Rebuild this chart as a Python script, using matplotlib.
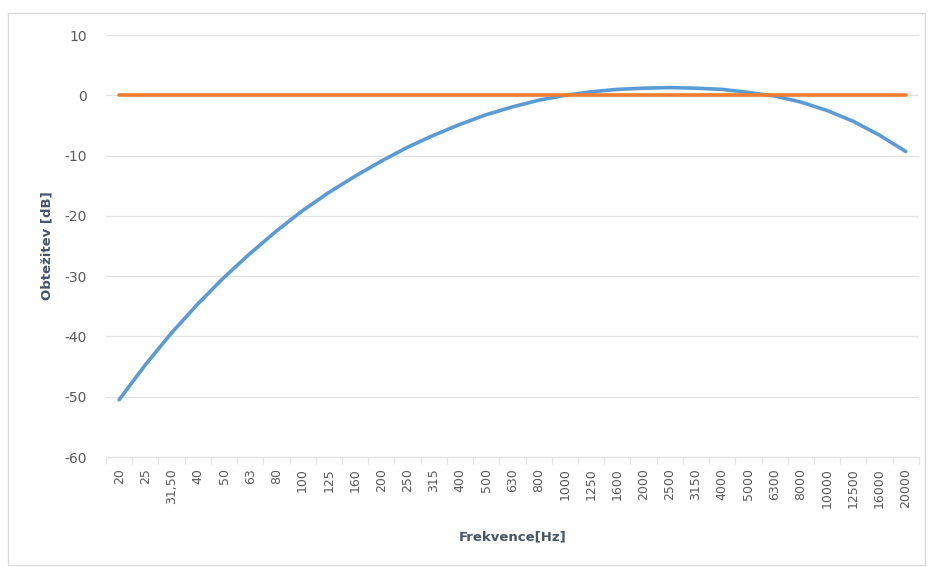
import matplotlib.pyplot as plt
from matplotlib.patches import Rectangle
import numpy as np

plt.rcParams['axes.unicode_minus'] = False

# frekvence (pásma) a A-vážení
freq_labels = ['20', '25', '31,50', '40', '50', '63', '80', '100', '125', '160',
               '200', '250', '315', '400', '500', '630', '800', '1000', '1250', '1600',
               '2000', '2500', '3150', '4000', '5000', '6300', '8000', '10000', '12500',
               '16000', '20000']
a_weight = [-50.5, -44.7, -39.4, -34.6, -30.2, -26.2, -22.5, -19.1, -16.1, -13.4,
            -10.9, -8.6, -6.6, -4.8, -3.2, -1.9, -0.8, 0.0, 0.6, 1.0,
            1.2, 1.3, 1.2, 1.0, 0.5, -0.1, -1.1, -2.5, -4.3, -6.6, -9.3]
reference = [0.0] * len(freq_labels)

text_col = '#595959'
grid_col = '#E3E3E3'

fig = plt.figure(figsize=(9.3, 5.67), dpi=100)
ax = fig.add_axes([0.114, 0.194, 0.874, 0.744])

# rámeček grafu
fig.patches.append(Rectangle((8 / 930, 2 / 567), 917 / 930, 552 / 567,
                             transform=fig.transFigure, fill=False,
                             edgecolor='#D9D9D9', linewidth=1))

x = np.arange(len(freq_labels))
ax.plot(x, a_weight, color='#5B9BD5', linewidth=2.6, solid_capstyle='round', zorder=3)
ax.plot(x, reference, color='#ED7D31', linewidth=2.6, solid_capstyle='round', zorder=4)

ax.set_xlim(-0.5, len(freq_labels) - 0.5)
ax.set_ylim(-60, 10)
ax.set_yticks(range(-60, 11, 10))
ax.yaxis.grid(True, color=grid_col, linewidth=0.9)
ax.set_axisbelow(True)

ax.set_xticks(x)
ax.set_xticklabels(freq_labels, rotation=90)
ax.set_xticks(np.arange(-0.5, len(freq_labels), 1), minor=True)
ax.tick_params(axis='x', which='major', length=0, pad=8, labelsize=9, labelcolor=text_col)
ax.tick_params(axis='x', which='minor', length=5, color=grid_col, width=0.9)
ax.tick_params(axis='y', length=0, pad=14, labelsize=10, labelcolor=text_col)

for s in ['top', 'right', 'left']:
    ax.spines[s].set_visible(False)
ax.spines['bottom'].set_color(grid_col)
ax.spines['bottom'].set_linewidth(0.9)

ax.set_xlabel('Frekvence[Hz]', fontsize=9.5, fontweight='bold', color='#44546A')
ax.set_ylabel('Obtežitev [dB]', fontsize=9.5, fontweight='bold', color='#44546A')
ax.xaxis.set_label_coords(0.5, -0.175)
ax.yaxis.set_label_coords(-0.065, 0.5)

fig.savefig('out.png', dpi=100)
